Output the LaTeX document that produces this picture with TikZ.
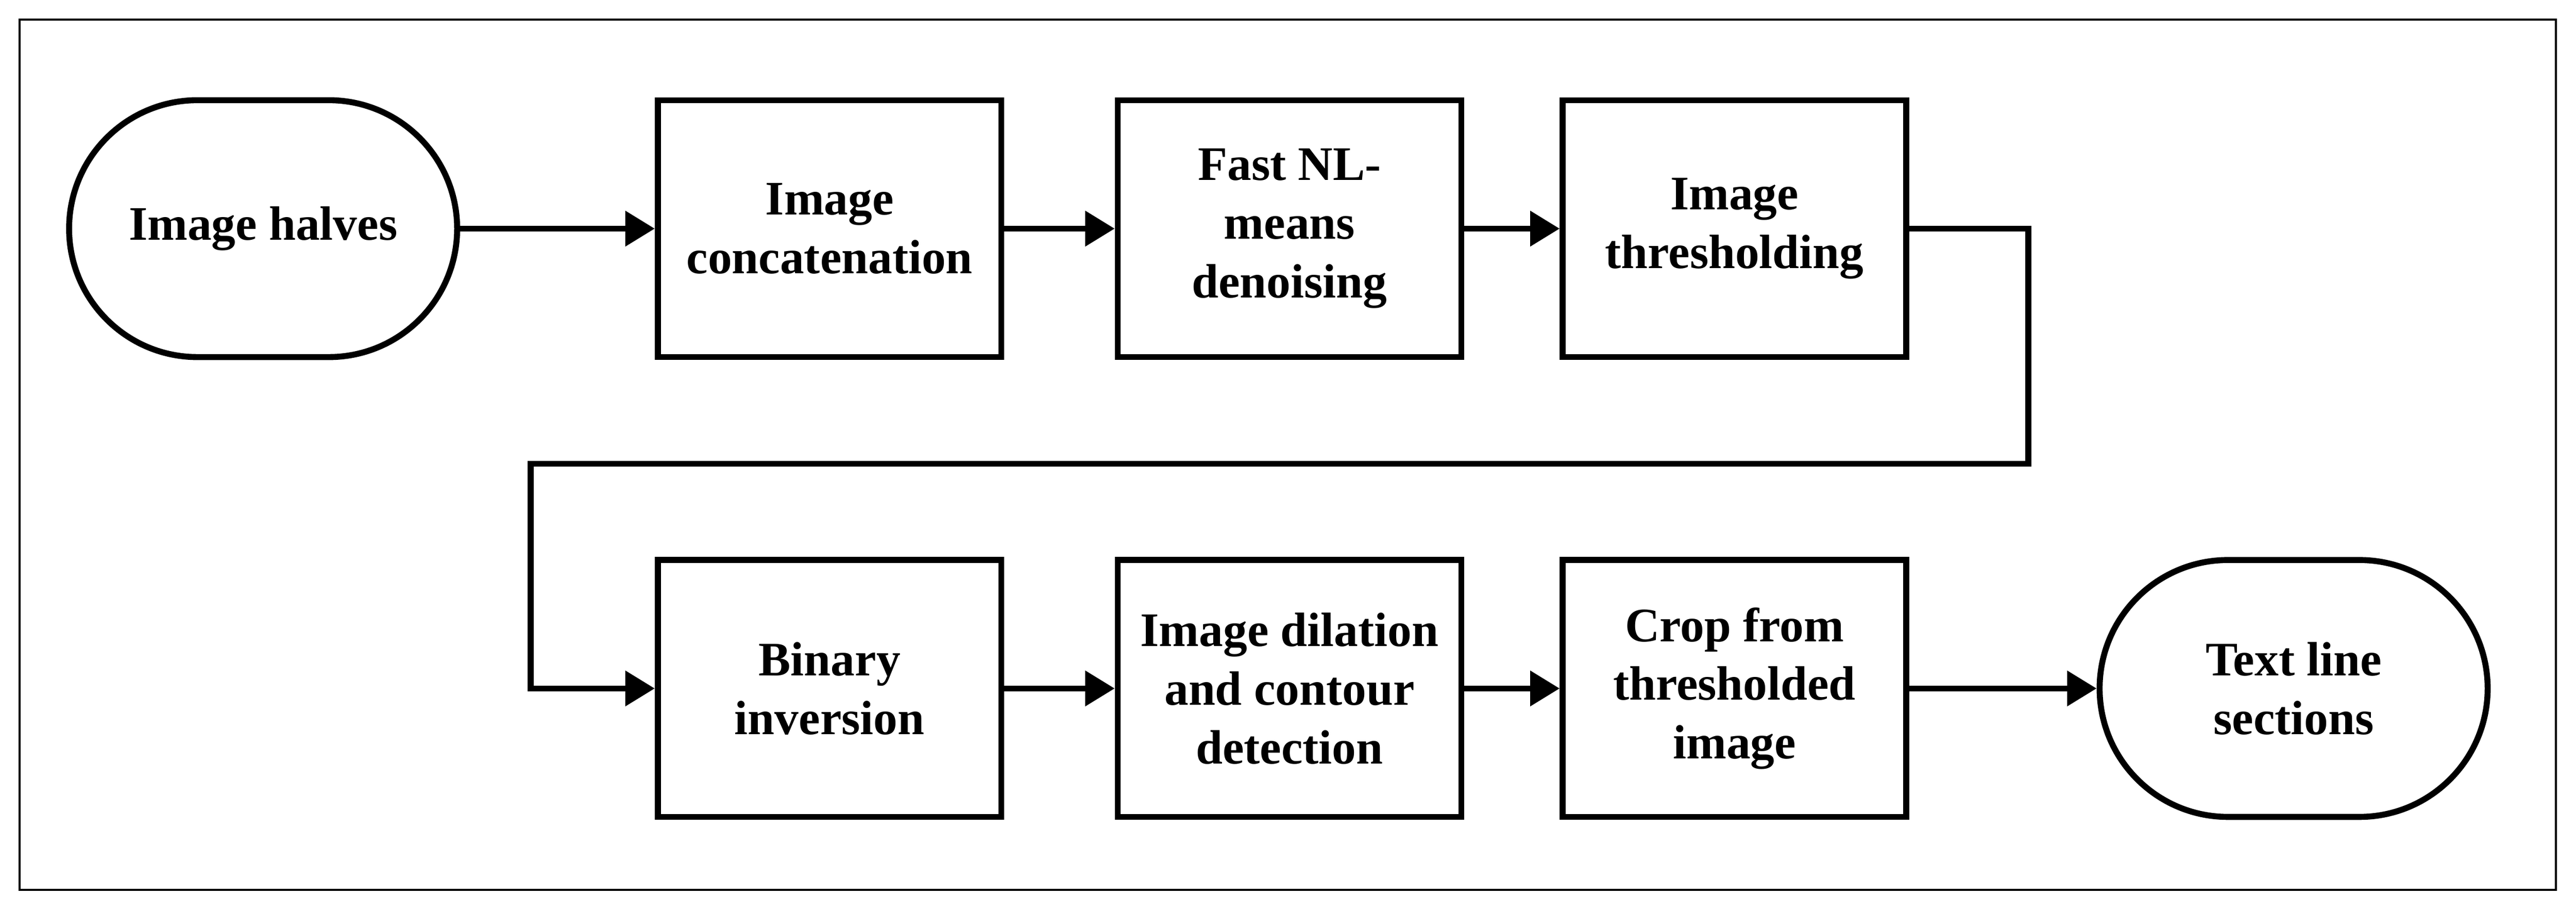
\documentclass[tikz,border=0pt]{standalone}
\usepackage{fontspec}
\setmainfont{Liberation Serif}
\usetikzlibrary{arrows.meta,shapes.misc,positioning}

\begin{document}
\begin{tikzpicture}[node distance=2.5cm,>={Triangle[length=0.69cm,width=0.8cm]},auto]

  \tikzstyle{terminal}=[rounded rectangle,draw=black,line width=0.14cm,
  			minimum width=9.07cm,minimum height=6cm,inner sep=0pt,
  			align=center,font=\fontsize{32}{39}\selectfont\bfseries]
  \tikzstyle{process}=[rectangle,draw=black,line width=0.14cm,
  			minimum width=8.03cm,minimum height=6cm,inner sep=0pt,
  			align=center,font=\fontsize{32}{39}\selectfont\bfseries]
  \tikzstyle{flow}=[->,line width=0.14cm]

  \useasboundingbox (0,0) rectangle (60.21,-21.27);
  \draw[line width=0.05cm] (0.46,-0.46) rectangle (59.74,-20.78);

  \begin{scope}
    \node [terminal] (halves) at (6.15,-5.34) {Image halves};
    \node [process] (concat) at (19.39,-5.34) {Image\\concatenation};
    \node [process] (denoise) [right=2.58cm of concat] {Fast NL-\\means\\denoising};
    \node [process] (thresh) [right=2.23cm of denoise] {Image\\thresholding};
    \node [process] (invert) at (19.39,-16.08) {Binary\\inversion};
    \node [process] (dilate) [right=2.58cm of invert] {Image dilation\\and contour\\detection};
    \node [process] (crop) [right=2.23cm of dilate] {Crop from\\thresholded\\image};
    \node [terminal] (sections) at (53.61,-16.08) {Text line\\sections};

    \coordinate (turnA) at (47.41,-5.34);
    \coordinate (turnB) at (47.41,-10.83);
    \coordinate (turnC) at (12.40,-10.83);
    \coordinate (turnD) at (12.40,-16.08);

    \draw [flow] (halves) -- (concat);
    \draw [flow] (concat) -- (denoise);
    \draw [flow] (denoise) -- (thresh);
    \draw [flow] (thresh.east) -- (turnA) -- (turnB) -- (turnC) -- (turnD) -- (invert.west);
    \draw [flow] (invert) -- (dilate);
    \draw [flow] (dilate) -- (crop);
    \draw [flow] (crop) -- (sections);
  \end{scope}

\end{tikzpicture}
\end{document}
